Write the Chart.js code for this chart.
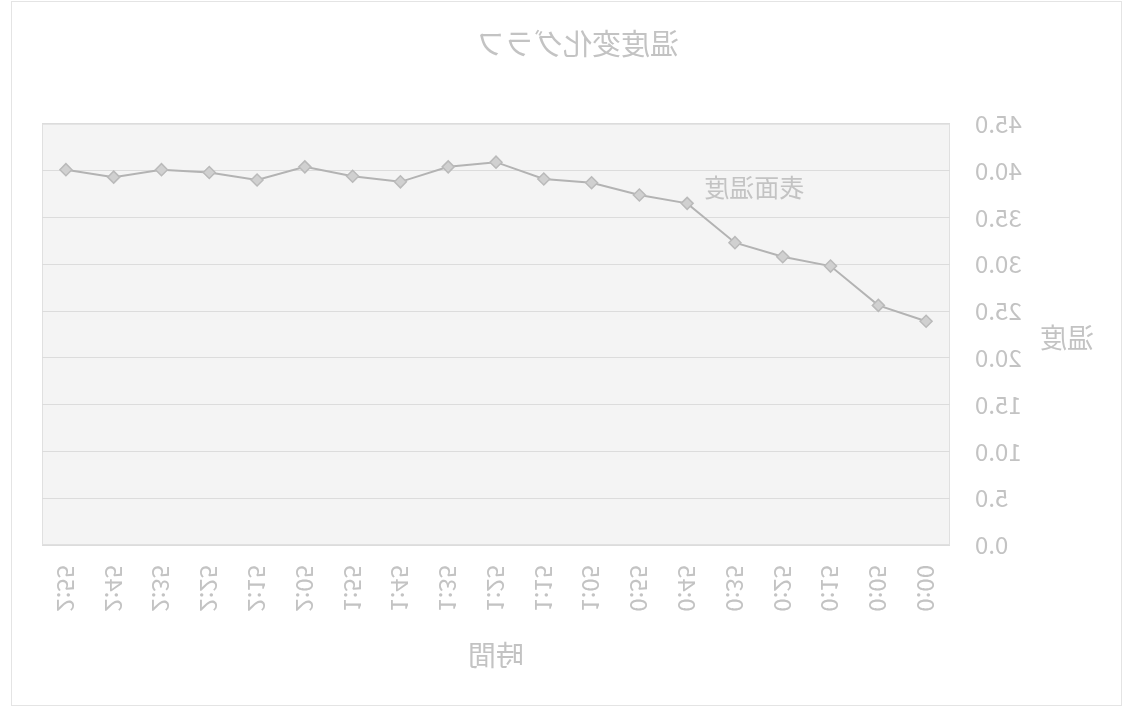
<!DOCTYPE html>
<html>
<head>
<meta charset="utf-8">
<script src="https://cdn.jsdelivr.net/npm/chart.js@4"></script>
<style>
  html, body { margin: 0; padding: 0; background: #ffffff; }
  #wrap { width: 1133px; height: 712px; position: relative; }
  /* the reference picture is a horizontally mirrored print of the chart */
  #c { display: block; transform: scaleX(-1); }
</style>
</head>
<body>
<div id="wrap"><canvas id="c" width="1133" height="712"></canvas></div>
<script>
// ---- data ----
const timeLabels = ["0:00","0:05","0:15","0:25","0:35","0:45","0:55","1:05","1:15","1:25",
                    "1:35","1:45","1:55","2:05","2:15","2:25","2:35","2:45","2:55"];
const surfaceTemp = [23.9, 25.6, 29.8, 30.8, 32.3, 36.5, 37.4, 38.7, 39.1, 40.9,
                     40.4, 38.8, 39.4, 40.4, 39.0, 39.8, 40.1, 39.3, 40.1];
const seriesName = "表面温度";
const chartTitle = "温度変化グラフ";
const xTitle = "時間";
const yTitle = "温度";
const labelPointIndex = 5; // series-name label sits beside the 0:45 point

const FONT = "'Noto Sans CJK JP', 'Noto Sans', sans-serif";
const TXT = "#c3c3c3";

const decorPlugin = {
  id: "decor",
  beforeDraw(chart) {
    const { ctx, chartArea: a } = chart;
    ctx.save();
    // outer chart frame
    ctx.strokeStyle = "#e4e4e4";
    ctx.lineWidth = 1;
    ctx.strokeRect(11.5, 1.5, chart.width - 23, chart.height - 8);
    // plot area background and border
    ctx.fillStyle = "#f4f4f4";
    ctx.fillRect(a.left, a.top, a.right - a.left, a.bottom - a.top);
    ctx.strokeStyle = "#e0e0e0";
    ctx.strokeRect(a.left + 0.5, a.top + 0.5, a.right - a.left - 1, a.bottom - a.top - 1);
    ctx.restore();
  },
  afterDraw(chart) {
    const { ctx, chartArea: a } = chart;
    const ys = chart.scales.y;
    ctx.save();
    ctx.fillStyle = TXT;
    // horizontal y-axis title
    ctx.font = "27px " + FONT;
    ctx.textAlign = "center";
    ctx.textBaseline = "middle";
    ctx.fillText(yTitle, ys.left + 46, (a.top + a.bottom) / 2 + 3);
    // series name label next to a data point
    const pt = chart.getDatasetMeta(0).data[labelPointIndex];
    ctx.font = "25px " + FONT;
    ctx.textAlign = "right";
    ctx.fillText(seriesName, pt.x - 17, pt.y - 16);
    ctx.restore();
  }
};

new Chart(document.getElementById("c"), {
  type: "line",
  data: {
    labels: timeLabels,
    datasets: [{
      label: seriesName,
      data: surfaceTemp,
      borderColor: "#b3b3b3",
      borderWidth: 2,
      pointStyle: "rectRot",
      pointRadius: 6,
      pointBackgroundColor: "#d0d0d0",
      pointBorderColor: "#bababa",
      pointBorderWidth: 1.5,
      tension: 0
    }]
  },
  options: {
    responsive: false,
    animation: false,
    devicePixelRatio: 1,
    layout: { padding: { left: 20, right: 42, top: 0, bottom: 36 } },
    plugins: {
      legend: { display: false },
      tooltip: { enabled: false },
      title: {
        display: true,
        text: chartTitle,
        color: TXT,
        font: { family: FONT, size: 29, weight: "normal" },
        padding: { top: 27, bottom: 62 }
      }
    },
    scales: {
      x: {
        offset: true,
        grid: { display: false, drawTicks: false },
        border: { display: false },
        ticks: {
          color: TXT,
          font: { family: FONT, size: 24 },
          minRotation: 90,
          maxRotation: 90,
          autoSkip: false,
          padding: 20
        },
        title: {
          display: true,
          text: xTitle,
          color: TXT,
          font: { family: FONT, size: 28 },
          padding: { top: 0, bottom: 4 }
        },
        afterFit(scale) { scale.height = 131; }
      },
      y: {
        min: 0,
        max: 45,
        grid: { color: "#dcdcdc", lineWidth: 1, drawTicks: false },
        border: { display: false },
        ticks: {
          stepSize: 5,
          color: TXT,
          font: { family: FONT, size: 24 },
          padding: 25,
          callback: v => Number(v).toFixed(1)
        },
        afterFit(scale) { scale.width = 163; }
      }
    }
  },
  plugins: [decorPlugin]
});
</script>
</body>
</html>
